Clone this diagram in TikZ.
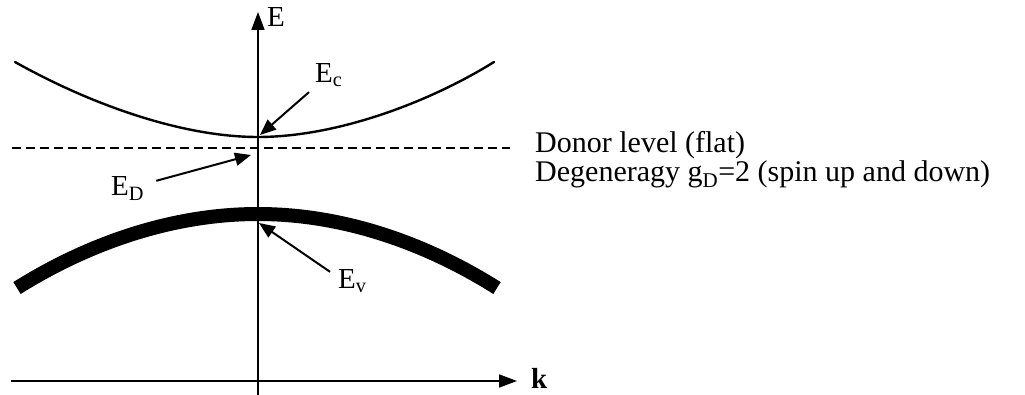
\documentclass[tikz,border=0pt]{standalone}
\usepackage{fontspec}
\setmainfont{Liberation Serif}
\usetikzlibrary{arrows.meta,positioning}

\begin{document}
\begin{tikzpicture}[
    x=1pt, y=-1pt,
    axis/.style={-{Triangle[length=18pt,width=13pt]}, line width=1.6pt},
    pointer/.style={-{Triangle[length=16pt,width=13pt]}, line width=2pt},
    bandlabel/.style={font=\fontsize{29}{29}\selectfont, inner sep=0pt, anchor=base west},
    notetext/.style={bandlabel, font=\fontsize{30}{30}\selectfont},
    bandline/.style={line width=2.4pt, line cap=round}
  ]
    \useasboundingbox (0,0) rectangle (1025,395);

    % axes
    \coordinate (kleft) at (11,381);
    \coordinate (kright) at (517,381);
    \coordinate (ebottom) at (258,395);
    \coordinate (etop) at (258,12);
    \draw[axis] (ebottom) -- (etop);
    \draw[axis] (kleft) -- (kright);
    \node[bandlabel] (elabel) at (267,27) {E};
    \node[bandlabel, font=\fontsize{29}{29}\selectfont\bfseries] (klabel) at (531,388) {k};

    % bands
    \coordinate (cmin) at (258,137);
    \coordinate (vmax) at (258,214);
    \draw[bandline] (15,62) .. controls (88,103) and (180,137) .. (cmin)
                            .. controls (336,137) and (428,103) .. (494,62);
    \draw[line width=1.4pt, dash pattern=on 9pt off 5pt] (12,148) -- (510,148);
    \draw[line width=14pt] (17,288) parabola bend (vmax) (497,288);

    % labels and pointers
    \node[bandlabel] (ec) at (315,83) {E\textsubscript{c}};
    \node[bandlabel] (ed) at (111,196) {E\textsubscript{D}};
    \node[bandlabel] (ev) at (338,289) {E\textsubscript{v}};
    \coordinate (dtip) at (251,155);
    \coordinate (vtip) at (259,223);
    \coordinate (ctip) at (260,135);
    \draw[pointer] ([shift={(-6,5)}]ec.south west) -- (ctip);
    \draw[pointer] ([shift={(12,4)}]ed.north east) -- (dtip);
    \draw[pointer] ([shift={(-8,2)}]ev.north west) -- (vtip);

    % donor level note
    \node[notetext] (donor) at (535,153) {Donor level (flat)};
    \node[notetext] (degen) at (535,182) {Degeneragy g\textsubscript{D}=2 (spin up and down)};
  \end{tikzpicture}
\end{document}
